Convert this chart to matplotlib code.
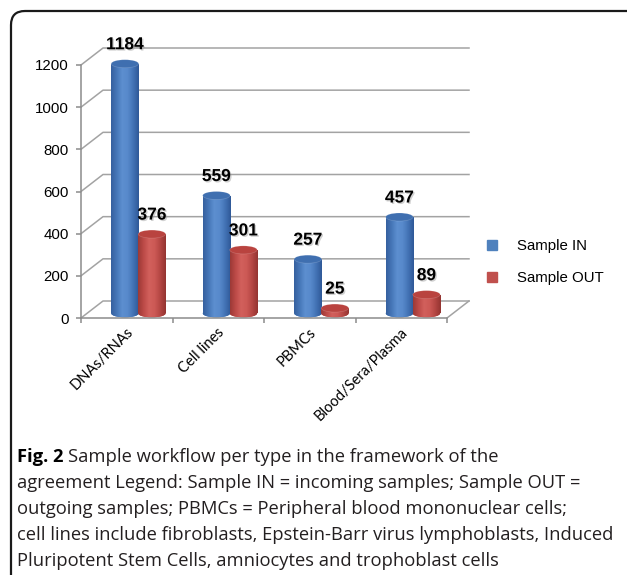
import matplotlib.pyplot as plt
import numpy as np
from matplotlib.patches import Ellipse, FancyBboxPatch
from matplotlib.lines import Line2D
from matplotlib.colors import LinearSegmentedColormap
from matplotlib.transforms import IdentityTransform
import matplotlib.patheffects as pe

# data
categories = ['DNAs/RNAs', 'Cell lines', 'PBMCs', 'Blood/Sera/Plasma']
sample_in = [1184, 559, 257, 457]
sample_out = [376, 301, 25, 89]
y_ticks = [0, 200, 400, 600, 800, 1000, 1200]
series_names = ['Sample IN', 'Sample OUT']
caption_bold = 'Fig. 2'
caption_lines = [
    'Sample workflow per type in the framework of the',
    'agreement Legend: Sample IN = incoming samples; Sample OUT =',
    'outgoing samples; PBMCs = Peripheral blood mononuclear cells;',
    'cell lines include fibroblasts, Epstein-Barr virus lymphoblasts, Induced',
    'Pluripotent Stem Cells, amniocytes and trophoblast cells',
]

W, H = 627, 575
fig = plt.figure(figsize=(W / 100, H / 100), dpi=100)

# rounded frame around the whole figure (runs off the right and bottom)
frame = FancyBboxPatch((11, -30), 660, H - 11 + 30,
                       boxstyle='round,pad=0,rounding_size=14',
                       transform=IdentityTransform(), fill=False,
                       edgecolor='#1a1a1a', linewidth=1.6)
fig.add_artist(frame)

# axes placed so the front plane matches the picture
px_cat = 91.5       # pixels per category
px_val = 253 / 1200  # pixels per unit
ax = fig.add_axes([81 / W, (H - 318) / H, 401 / W, 278 / H])
ax.set_xlim(0, 401 / px_cat)
ax.set_ylim(0, 278 / px_val)

dx = 22 / px_cat    # 3d depth offset
dy = 17 / px_val
grid_c = '#a3a3a3'

# back wall gridlines + left wall diagonals
n = len(categories)
for v in y_ticks:
    ax.plot([0, dx, n + dx], [v, v + dy, v + dy], color=grid_c, lw=1.1, zorder=1)
ax.plot([n, n + dx], [0, dy], color=grid_c, lw=1.1, zorder=1)

# cylinders
base = 22
bw = 0.30
eh = 38
x = np.arange(n)
offsets = [0.48, 0.775]
grads = [
    ['#36609f', '#4677b8', '#5d8fd0', '#5789cb', '#4373b5', '#2f5998'],
    ['#9c3936', '#bd4b48', '#d2605c', '#cc5955', '#b44643', '#943431'],
]
tops = ['#3f6fb0', '#b9433f']
solid = ['#4f81bd', '#c0504d']

for s, vals in enumerate([sample_in, sample_out]):
    cmap = LinearSegmentedColormap.from_list('cyl%d' % s, grads[s])
    grad = np.linspace(0, 1, 64).reshape(1, -1)
    xs = x + offsets[s]
    bars = ax.bar(xs, vals, width=bw, bottom=base, color=solid[s],
                  linewidth=0, zorder=3)
    for xc, v, bar in zip(xs, vals, bars):
        bot = Ellipse((xc, base), bw, eh, facecolor=solid[s], lw=0, zorder=2)
        ax.add_patch(bot)
        for clip in (bar, bot):
            im = ax.imshow(grad, cmap=cmap, aspect='auto',
                           extent=(xc - bw / 2, xc + bw / 2, base - eh, base + v),
                           zorder=clip.get_zorder() + 0.1)
            im.set_clip_path(clip)
        top = Ellipse((xc, base + v), bw, eh, facecolor=tops[s],
                      edgecolor='#ffffff30', lw=0.5, zorder=4)
        ax.add_patch(top)
        ax.annotate(str(v), (xc, base + v), xytext=(0, 19),
                    textcoords='offset pixels', ha='center', va='center',
                    fontsize=12.5, fontweight='bold', family='Liberation Sans',
                    zorder=5,
                    path_effects=[pe.withSimplePatchShadow(offset=(1, -1),
                                  shadow_rgbFace='#999999', alpha=0.45)])

ax.set_xlim(0, 401 / px_cat)
ax.set_ylim(0, 278 / px_val)

# axes lines and ticks
for side in ['top', 'right']:
    ax.spines[side].set_visible(False)
ax.spines['left'].set_bounds(0, 1200)
ax.spines['bottom'].set_bounds(0, n)
for side in ['left', 'bottom']:
    ax.spines[side].set_color('#8c8c8c')
    ax.spines[side].set_linewidth(1.1)
ax.set_yticks(y_ticks)
ax.set_yticklabels([str(t) for t in y_ticks], family='Liberation Sans',
                   fontsize=10.8)
ax.tick_params(axis='y', length=3.6, width=1.1, color='#8c8c8c', pad=5)
ax.set_xticks(np.arange(n + 1))
ax.set_xticklabels([])
ax.tick_params(axis='x', length=3.6, width=1.1, color='#8c8c8c')
for i, c in enumerate(categories):
    ax.annotate(c, (i + 0.6, 0), xytext=(0, -7), textcoords='offset pixels',
                rotation=45, ha='right', va='top', fontsize=10.5, family='Lato')

# legend
handles = [Line2D([], [], marker='s', ls='', markersize=6.5,
                  markerfacecolor=solid[k], markeredgecolor=solid[k])
           for k in range(2)]
fig.legend(handles, series_names, loc='upper left',
           bbox_to_anchor=(486 / W, 1 - 239 / H), frameon=False,
           prop={'family': 'Liberation Sans', 'size': 10.8},
           handlelength=0.8, handletextpad=1.25, labelspacing=1.2,
           borderaxespad=0, borderpad=0)

# caption
cap_font = 'Open Sans'
cap_size = 13.2
y0 = 457
fig.canvas.draw()
r = fig.canvas.get_renderer()
tb = fig.text(17 / W, 1 - y0 / H, caption_bold + ' ', family=cap_font,
              fontsize=cap_size, fontweight='bold', va='center', ha='left')
bb = tb.get_window_extent(r)
fig.text(bb.x1 / W, 1 - y0 / H, caption_lines[0], family=cap_font,
         fontsize=cap_size, va='center', ha='left', color='#231f20')
for k, line in enumerate(caption_lines[1:]):
    fig.text(17 / W, 1 - (y0 + 26 * (k + 1)) / H, line, family=cap_font,
             fontsize=cap_size, va='center', ha='left', color='#231f20')

fig.savefig('out.png', dpi=100)
